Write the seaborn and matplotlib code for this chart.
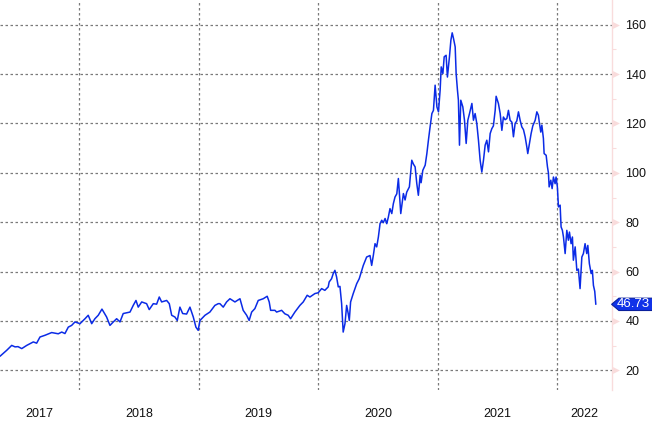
import numpy as np
import pandas as pd
import seaborn as sns
import matplotlib.pyplot as plt
from matplotlib import transforms
from matplotlib.patches import Polygon

# time in decimal years, price
dec_years = [
    2017.336, 2017.392, 2017.434, 2017.462, 2017.487, 2017.518, 2017.560, 2017.615, 2017.643, 2017.671,
    2017.713, 2017.769, 2017.824, 2017.853, 2017.880, 2017.908, 2017.936, 2017.964, 2018.006, 2018.048,
    2018.075, 2018.104, 2018.131, 2018.159, 2018.190, 2018.229, 2018.257, 2018.285, 2018.313, 2018.341,
    2018.368, 2018.425, 2018.452, 2018.475, 2018.494, 2018.523, 2018.564, 2018.586, 2018.620, 2018.648,
    2018.670, 2018.690, 2018.732, 2018.754, 2018.774, 2018.801, 2018.821, 2018.843, 2018.866, 2018.899,
    2018.927, 2018.955, 2018.977, 2018.996, 2019.011, 2019.053, 2019.094, 2019.136, 2019.164, 2019.178,
    2019.206, 2019.234, 2019.262, 2019.304, 2019.346, 2019.373, 2019.402, 2019.423, 2019.444, 2019.471,
    2019.499, 2019.541, 2019.574, 2019.591, 2019.603, 2019.639, 2019.653, 2019.695, 2019.722, 2019.750,
    2019.770, 2019.806, 2019.848, 2019.876, 2019.909, 2019.932, 2019.974, 2020.001, 2020.030, 2020.057,
    2020.085, 2020.093, 2020.113, 2020.127, 2020.141, 2020.155, 2020.169, 2020.183, 2020.197, 2020.210,
    2020.225, 2020.239, 2020.252, 2020.261, 2020.272, 2020.294, 2020.323, 2020.344, 2020.365, 2020.378,
    2020.406, 2020.434, 2020.448, 2020.462, 2020.476, 2020.490, 2020.504, 2020.518, 2020.532, 2020.545,
    2020.560, 2020.574, 2020.587, 2020.601, 2020.616, 2020.629, 2020.643, 2020.658, 2020.671, 2020.679,
    2020.691, 2020.713, 2020.727, 2020.741, 2020.763, 2020.783, 2020.797, 2020.811, 2020.825, 2020.838,
    2020.853, 2020.861, 2020.875, 2020.895, 2020.909, 2020.922, 2020.936, 2020.951, 2020.964, 2020.978,
    2020.993, 2021.006, 2021.020, 2021.029, 2021.043, 2021.054, 2021.070, 2021.081, 2021.098, 2021.110,
    2021.121, 2021.132, 2021.146, 2021.154, 2021.165, 2021.173, 2021.182, 2021.193, 2021.210, 2021.224,
    2021.238, 2021.252, 2021.266, 2021.286, 2021.299, 2021.313, 2021.327, 2021.341, 2021.355, 2021.369,
    2021.383, 2021.397, 2021.411, 2021.425, 2021.439, 2021.453, 2021.466, 2021.481, 2021.489, 2021.508,
    2021.523, 2021.537, 2021.550, 2021.564, 2021.579, 2021.592, 2021.606, 2021.621, 2021.634, 2021.648,
    2021.662, 2021.676, 2021.690, 2021.704, 2021.718, 2021.732, 2021.746, 2021.754, 2021.768, 2021.782,
    2021.796, 2021.816, 2021.830, 2021.843, 2021.852, 2021.863, 2021.872, 2021.885, 2021.891, 2021.908,
    2021.919, 2021.927, 2021.933, 2021.947, 2021.958, 2021.969, 2021.983, 2021.991, 2022.002, 2022.011,
    2022.025, 2022.033, 2022.044, 2022.053, 2022.067, 2022.081, 2022.094, 2022.103, 2022.117, 2022.128,
    2022.136, 2022.151, 2022.165, 2022.178, 2022.192, 2022.207, 2022.220, 2022.234, 2022.248, 2022.257,
    2022.270, 2022.285, 2022.295, 2022.304, 2022.315, 2022.324,
]
prices = [
    25.7, 28.1, 30.1, 29.5, 29.6, 28.8, 30.1, 31.5, 31.0, 33.5,
    34.2, 35.3, 34.8, 35.5, 34.9, 37.5, 38.2, 39.6, 38.9, 40.9,
    42.3, 38.9, 40.9, 42.3, 44.8, 41.6, 38.2, 39.6, 40.9, 39.6,
    43.0, 43.6, 46.3, 48.3, 45.6, 47.7, 47.0, 44.6, 47.0, 46.8,
    49.7, 47.7, 48.3, 47.0, 42.3, 41.6, 40.2, 45.6, 43.0, 42.8,
    45.6, 41.6, 37.5, 36.2, 40.2, 42.3, 43.6, 46.3, 47.0, 47.0,
    45.6, 47.7, 49.0, 47.7, 49.0, 44.3, 42.3, 40.2, 43.6, 45.0,
    48.3, 49.0, 50.0, 47.7, 44.3, 44.3, 43.6, 44.3, 42.9, 42.3,
    40.9, 43.6, 46.3, 47.7, 50.4, 49.7, 51.1, 51.4, 53.1, 52.4,
    53.8, 55.8, 57.1, 59.2, 60.5, 57.8, 53.8, 54.0, 47.0, 35.5,
    38.9, 46.3, 43.0, 40.2, 47.7, 51.1, 55.1, 57.1, 60.5, 62.5,
    65.9, 66.5, 62.5, 66.6, 71.3, 70.0, 74.0, 79.4, 80.8, 79.8,
    81.5, 79.4, 82.0, 85.5, 83.5, 87.5, 90.2, 91.5, 97.7, 92.0,
    83.5, 91.6, 89.0, 92.2, 94.3, 105.1, 103.5, 102.4, 95.6, 90.9,
    99.0, 96.0, 101.0, 103.1, 107.8, 113.2, 118.6, 124.0, 125.3, 135.5,
    126.7, 124.7, 133.5, 142.9, 140.2, 147.0, 147.6, 138.8, 147.0, 153.7,
    156.7, 154.4, 151.0, 140.2, 133.5, 129.4, 111.2, 129.4, 126.7, 121.3,
    111.9, 121.3, 124.0, 128.1, 121.3, 124.0, 120.0, 113.2, 105.1, 100.3,
    105.1, 111.2, 113.2, 108.5, 115.9, 117.9, 119.0, 125.3, 131.0, 128.1,
    124.0, 117.2, 122.6, 121.5, 122.0, 125.3, 121.3, 120.5, 114.6, 120.0,
    121.0, 124.7, 121.3, 118.6, 117.5, 114.6, 110.5, 107.8, 111.9, 115.9,
    119.0, 121.3, 124.7, 123.3, 120.0, 116.5, 119.3, 113.9, 107.8, 107.1,
    102.4, 100.0, 94.3, 97.0, 93.6, 98.3, 95.6, 98.3, 94.3, 86.2,
    86.9, 78.1, 76.7, 74.0, 67.3, 76.7, 72.7, 76.0, 71.3, 74.0,
    64.6, 70.0, 60.5, 61.0, 53.1, 65.9, 67.3, 71.3, 67.3, 70.6,
    63.2, 59.2, 60.5, 54.4, 52.0, 46.73,
]
last_price = 46.73
y_ticks = [20, 40, 60, 80, 100, 120, 140, 160]
year_labels = ["2017", "2018", "2019", "2020", "2021", "2022"]
x_range = (2017.336, 2022.456)
y_range = (12, 170)

LINE = "#0b2be6"
PINK = "#f9dcdc"


def to_date(t):
    y = int(t)
    start = pd.Timestamp(y, 1, 1)
    end = pd.Timestamp(y + 1, 1, 1)
    return start + (end - start) * (t - y)


df = pd.DataFrame({"date": [to_date(t) for t in dec_years], "price": prices})

sns.set_style("white")
plt.rcParams["font.family"] = ["Liberation Sans", "DejaVu Sans"]

fig = plt.figure(figsize=(6.52, 4.24), dpi=100)
ax = fig.add_axes([0.0, 0.080, 0.938, 0.920])

sns.lineplot(data=df, x="date", y="price", color=LINE, linewidth=1.1, ax=ax)

x0, x1 = to_date(x_range[0]), to_date(x_range[1])
ax.set_xlim(x0, x1)
ax.set_ylim(*y_range)
ax.set_xlabel("")
ax.set_ylabel("")

# year boundaries as dashed gridlines, labels centred on the visible part of each year
bounds = [pd.Timestamp(int(y) + 1, 1, 1) for y in year_labels[:-1]]
ax.set_xticks(bounds)
ax.set_xticklabels([])
centers = []
for y in year_labels:
    a = max(pd.Timestamp(int(y), 1, 1), x0)
    b = min(pd.Timestamp(int(y) + 1, 1, 1), x1)
    centers.append(a + (b - a) / 2)
ax.set_xticks(centers, minor=True)
ax.set_xticklabels(year_labels, minor=True)
ax.tick_params(axis="x", which="both", length=0, pad=13, labelsize=9, colors="#111111")

ax.yaxis.tick_right()
ax.set_yticks(y_ticks)
ax.set_yticks([v + 10 for v in y_ticks[:-1]], minor=True)
ax.tick_params(axis="y", which="major", length=0, pad=10, labelsize=9, colors="#111111")
ax.tick_params(axis="y", which="minor", length=3, width=0.8, color=PINK, direction="out")

ax.grid(True, which="major", axis="both", color="#7a7a7a", linestyle=(0, (2, 2)), linewidth=0.9)

for side in ["left", "top", "bottom"]:
    ax.spines[side].set_visible(False)
ax.spines["right"].set_color(PINK)
ax.spines["right"].set_linewidth(1.0)

# small pink triangles marking the major ticks
tri = transforms.blended_transform_factory(ax.transAxes, ax.transData)
ax.scatter([1.007] * len(y_ticks), y_ticks, marker=">", s=24, color=PINK,
           transform=tri, clip_on=False, zorder=3, linewidths=0)

# last value tag
h = 2.5
tag = Polygon([(1.0, last_price), (1.012, last_price + h), (1.08, last_price + h),
               (1.08, last_price - h), (1.012, last_price - h)],
              closed=True, transform=tri, clip_on=False, facecolor="#1133e8",
              edgecolor="#0a1f9c", linewidth=0.8, zorder=5)
ax.add_patch(tag)
ax.text(1.009, last_price, f"{last_price:.2f}", transform=tri, color="white",
        fontsize=9.5, va="center", ha="left", zorder=6, clip_on=False)

fig.savefig("out.png", dpi=100)
